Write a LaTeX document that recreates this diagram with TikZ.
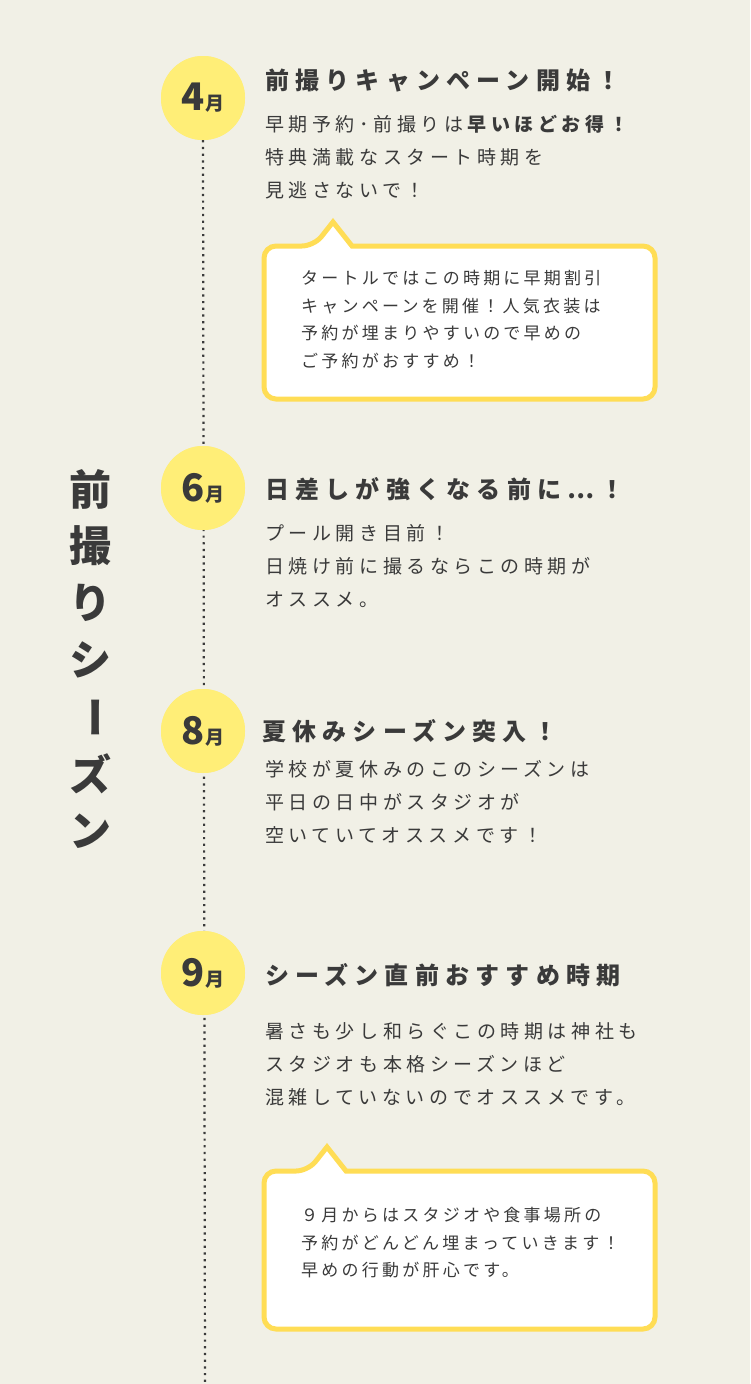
\documentclass[tikz,border=0pt]{standalone}
\usepackage{fontspec}
\setmainfont{Noto Sans CJK JP}
\definecolor{bg}{HTML}{F1F0E6}
\definecolor{ink}{HTML}{3A3A3A}
\definecolor{circ}{HTML}{FFEE77}
\definecolor{frame}{HTML}{FFDD55}
\tikzset{
 month/.style={circle,fill=circ,minimum size=84pt,inner sep=0pt},
 title/.style={anchor=west,font=\fontsize{24}{24}\selectfont\bfseries\addfontfeatures{LetterSpace=26},text=ink,inner sep=0pt},
 body/.style={anchor=north west,font=\fontsize{19}{33}\selectfont\addfontfeatures{LetterSpace=24},text=ink,align=left,inner sep=0pt},
 small/.style={anchor=north west,font=\fontsize{17}{27.5}\selectfont\addfontfeatures{LetterSpace=19},text=ink,align=left,inner sep=0pt},
 callout/.style={fill=white,draw=frame,line width=5pt,line join=miter},
 vt/.style={font=\fontsize{42}{42}\selectfont\bfseries,text=ink,inner sep=0pt}
}
\newcommand{\mon}[1]{{\fontsize{38}{38}\selectfont\bfseries #1}{\fontsize{19}{19}\selectfont\bfseries 月}}
\begin{document}
\begin{tikzpicture}[x=1pt,y=-1pt]
\fill[bg] (0,0) rectangle (750,1384);
\useasboundingbox (0,0) rectangle (750,1384);
\coordinate (lb) at (205,1384);
\node[month] (m4) at (203,98) {};
\node[month] (m6) at (203,488) {};
\node[month] (m8) at (203,731) {};
\node[month] (m9) at (203,973) {};
\draw[ink,line width=2.2pt,dash pattern=on 2.2pt off 4.5pt] (m4.south) -- (lb);
\foreach \n/\t in {m4/4,m6/6,m8/8,m9/9}{
 \node[month,text=ink] at (\n) {\mon{\t}};}
\foreach \c [count=\i] in {前,撮,り,シ,ー,ズ,ン}{
 \ifnum\i=5
 \node[vt,rotate=-90] (v\i) at (90,432+\i*57) {ー};
 \else
 \node[vt] (v\i) at (90,432+\i*57) {\c};
 \fi}
% April
\node[title] (t4) at (265,81) {前撮りキャンペーン開始！};
\node[body] (b4) at (265,115) {早期予約･前撮りは\textbf{早いほどお得！}\\特典満載なスタート時期を\\見逃さないで！};
\draw[callout] (264,246) [rounded corners=12pt] -- (314,246) [sharp corners] -- (333,222) -- (352,246) [rounded corners=12pt] -- (655,246) -- (655,399) -- (264,399) -- cycle;
\node[small] (c4) at (301,270) {タートルではこの時期に早期割引\\キャンペーンを開催！人気衣装は\\予約が埋まりやすいので早めの\\ご予約がおすすめ！};
% June
\node[title] (t6) at (265,489) {日差しが強くなる前に⋯！};
\node[body] (b6) at (265,524) {プール開き目前！\\日焼け前に撮るならこの時期が\\オススメ。};
% August
\node[title] (t8) at (262,731) {夏休みシーズン突入！};
\node[body] (b8) at (265,760) {学校が夏休みのこのシーズンは\\平日の日中がスタジオが\\空いていてオススメです！};
% September
\node[title] (t9) at (265,975) {シーズン直前おすすめ時期};
\node[body] (b9) at (265,1022) {暑さも少し和らぐこの時期は神社も\\スタジオも本格シーズンほど\\混雑していないのでオススメです。};
\draw[callout] (264,1171) [rounded corners=12pt] -- (308,1171) [sharp corners] -- (327,1147) -- (346,1171) [rounded corners=12pt] -- (655,1171) -- (655,1329) -- (264,1329) -- cycle;
\node[small] (c9) at (301,1207) {９月からはスタジオや食事場所の\\予約がどんどん埋まっていきます！\\早めの行動が肝心です。};
\end{tikzpicture}
\end{document}
